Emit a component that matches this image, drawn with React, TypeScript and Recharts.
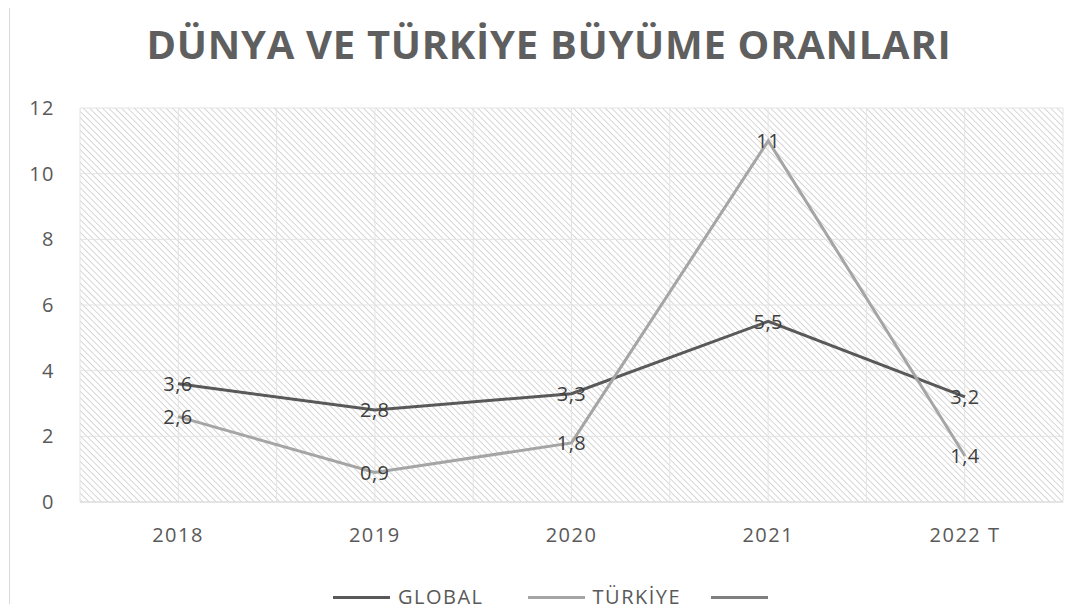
import { LineChart, Line, XAxis, YAxis, CartesianGrid, LabelList } from "recharts";

const years = ["2018", "2019", "2020", "2021", "2022 T"];
const globalValues = [3.6, 2.8, 3.3, 5.5, 3.2];
const turkiyeValues = [2.6, 0.9, 1.8, 11, 1.4];
const yTicks = [0, 2, 4, 6, 8, 10, 12];

const data = years.map((year, i) => ({
  year,
  global: globalValues[i],
  turkiye: turkiyeValues[i],
}));

const font = "'Open Sans', 'Noto Sans', sans-serif";
const fmt = (v: any) => String(v).replace(".", ",");

const legendItems = [
  { label: "GLOBAL", color: "#595959" },
  { label: "TÜRKİYE", color: "#a5a5a5" },
  { label: "", color: "#7f7f7f" },
];
const legendGaps = [44, 30, 0];

const tickStyle = { fill: "#595959", fontSize: 20, fontFamily: font, letterSpacing: 1.5 };
const labelStyle = { fill: "#404040", fontSize: 20, fontFamily: font, letterSpacing: 0.5 };

export default function App() {
  return (
    <div
      style={{
        position: "relative",
        width: 1091,
        height: 612,
        margin: -8,
        background: "#fff",
        fontFamily: font,
        overflow: "hidden",
      }}
    >
      <div
        style={{
          position: "absolute",
          left: 9,
          top: 0,
          width: 1,
          height: 612,
          background: "#d9d9d9",
        }}
      />
      <div
        style={{
          position: "absolute",
          top: 24,
          left: 0,
          width: 1098,
          textAlign: "center",
          fontSize: 40,
          lineHeight: "40px",
          fontWeight: 700,
          color: "#5f5f5f",
          letterSpacing: 0.7,
        }}
      >
        DÜNYA VE TÜRKİYE BÜYÜME ORANLARI
      </div>
      <LineChart
        width={1091}
        height={612}
        data={data}
        margin={{ top: 108, right: 28, bottom: 80, left: 0 }}
      >
        <defs>
          <pattern
            id="hatch"
            width="4.5"
            height="4.5"
            patternUnits="userSpaceOnUse"
            patternTransform="rotate(-45)"
          >
            <line x1="0" y1="0" x2="0" y2="4.5" stroke="#c9c9c9" strokeWidth="1.5" />
          </pattern>
        </defs>
        <CartesianGrid
          fill="url(#hatch)"
          fillOpacity={1}
          stroke="#e3e3e3"
          strokeWidth={1}
          verticalCoordinatesGenerator={({ offset }: any) => {
            const out: number[] = [];
            for (let i = 0; i <= years.length * 2; i++) {
              out.push(offset.left + (offset.width * i) / (years.length * 2));
            }
            return out;
          }}
        />
        <XAxis
          dataKey="year"
          padding={{ left: 98, right: 98 }}
          axisLine={{ stroke: "#d9d9d9" }}
          tickLine={false}
          tickSize={0}
          tickMargin={26}
          tick={tickStyle}
        />
        <YAxis
          width={80}
          domain={[0, 12]}
          ticks={yTicks}
          axisLine={false}
          tickLine={false}
          tickSize={0}
          tickMargin={25}
          tick={tickStyle}
        />
        <Line
          dataKey="global"
          name="GLOBAL"
          stroke="#595959"
          strokeWidth={3}
          dot={false}
          type="linear"
          isAnimationActive={false}
        >
          <LabelList dataKey="global" position="center" formatter={fmt} style={labelStyle} />
        </Line>
        <Line
          dataKey="turkiye"
          name="TÜRKİYE"
          stroke="#a5a5a5"
          strokeWidth={3}
          dot={false}
          type="linear"
          isAnimationActive={false}
        >
          <LabelList dataKey="turkiye" position="center" formatter={fmt} style={labelStyle} />
        </Line>
      </LineChart>
      <div
        style={{
          position: "absolute",
          top: 584,
          left: 333,
          display: "flex",
          alignItems: "center",
          fontSize: 20,
          letterSpacing: 1.5,
          lineHeight: "26px",
          color: "#595959",
        }}
      >
        {legendItems.map((it, i) => (
          <div key={i} style={{ display: "flex", alignItems: "center", marginRight: legendGaps[i] }}>
            <div style={{ width: 57, height: 3, background: it.color, marginRight: it.label ? 8 : 0 }} />
            <span>{it.label}</span>
          </div>
        ))}
      </div>
    </div>
  );
}
